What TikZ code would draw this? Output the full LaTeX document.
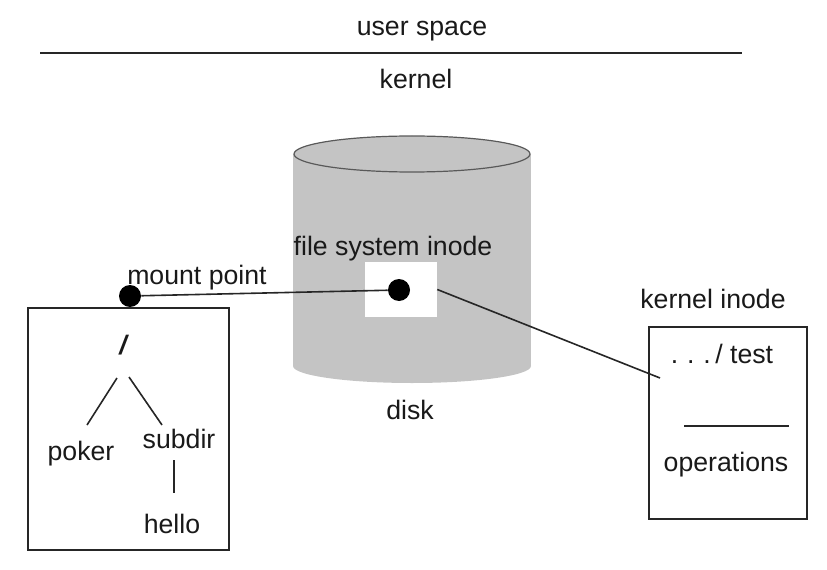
\documentclass[tikz,border=0pt]{standalone}
\usepackage{fontspec}
\setmainfont{Liberation Sans}
\begin{document}
\begin{tikzpicture}[x=0.75pt,y=-0.75pt,
  lbl/.style={inner sep=0pt,text=black!90,font=\fontsize{20}{24}\selectfont},
  edge/.style={draw=black!85,line width=1.2pt},
  frame/.style={draw=black!85,line width=1.5pt},
  blob/.style={circle,fill=black,inner sep=0pt,minimum size=16.5pt}]
\useasboundingbox (0,0) rectangle (827,570);
\definecolor{diskgray}{HTML}{C4C4C4}
% title area
\node[lbl] (us) at (422,31) {user space};
\coordinate (la) at (40,53);
\coordinate (lb) at (742,53);
\draw[edge] (la) -- (lb);
\node[lbl] (kern) at (416,79) {kernel};
% disk
\fill[diskgray] (293,154) rectangle (531,366);
\fill[diskgray] (412,366) ellipse [x radius=119, y radius=17];
\draw[fill=diskgray,draw=black!65,line width=0.9pt] (412,154) ellipse [x radius=118, y radius=18];
\node[lbl] (disk) at (410,410) {disk};
\node[lbl] (fsl) at (393,249) {file system inode};
\node[fill=white,minimum width=54pt,minimum height=41.25pt,inner sep=0pt] (fsbox) at (401,289.5) {};
\node[blob] (fs) at (399,290) {};
% left tree box
\node[frame,minimum width=150.75pt,minimum height=181.5pt,inner sep=0pt] (tree) at (128.5,429) {};
\node[blob] (mp) at (130,296) {};
\node[lbl,anchor=south west] (mpl) at (127,290) {mount point};
\draw[edge] (mp) -- (fs);
\node[lbl,font=\fontsize{20}{24}\selectfont\itshape\bfseries] (root) at (123,345) {/};
\node[lbl] (poker) at (81,454) {poker};
\node[lbl] (subdir) at (179,439) {subdir};
\node[lbl] (hello) at (172,524) {hello};
\coordinate (r1) at (117,378);
\coordinate (p1) at (87,425);
\coordinate (r2) at (129,377);
\coordinate (s1) at (162,425);
\coordinate (s2) at (174,460);
\coordinate (h1) at (174,493);
\draw[edge] (r1) -- (p1);
\draw[edge] (r2) -- (s1);
\draw[edge] (s2) -- (h1);
% kernel inode
\node[lbl] (kil) at (713,299) {kernel inode};
\node[frame,minimum width=118.5pt,minimum height=144pt,inner sep=0pt] (kbox) at (728,423) {};
\node[lbl] (test) at (722,354) {.\,\,.\,\,.\,/ test};
\coordinate (o1) at (684,426);
\coordinate (o2) at (789,426);
\draw[edge] (o1) -- (o2);
\node[lbl] (ops) at (726,465) {operations};
\coordinate (kin) at (660,378);
\draw[edge] (fsbox.east) -- (kin);
\end{tikzpicture}
\end{document}
